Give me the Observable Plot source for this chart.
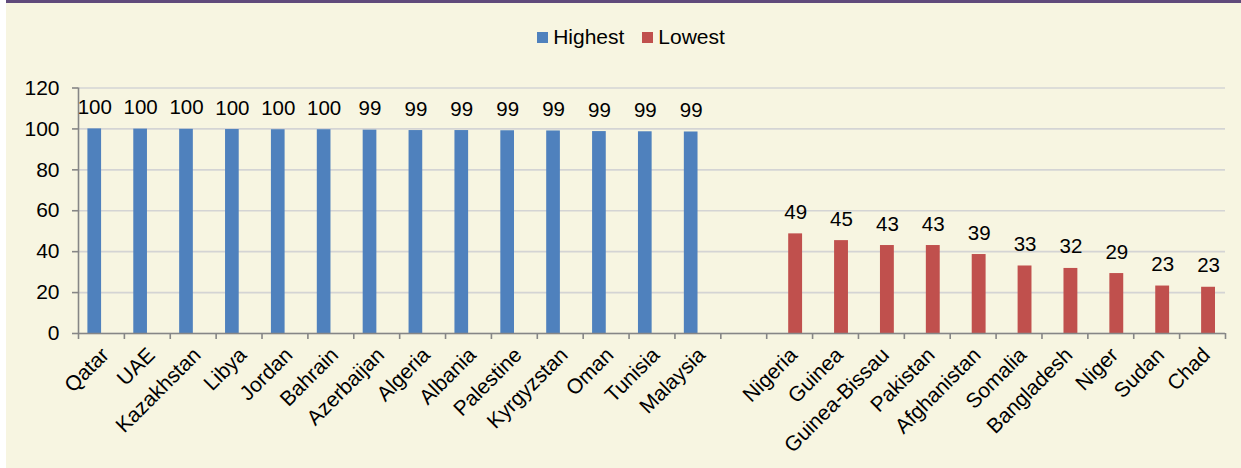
<!DOCTYPE html>
<html>
<head>
<meta charset="utf-8">
<script src="https://cdn.jsdelivr.net/npm/d3@7"></script>
<script src="https://cdn.jsdelivr.net/npm/@observablehq/plot@0.6"></script>
<style>
  html, body { margin: 0; padding: 0; background: #ffffff; }
  #frame {
    position: absolute; left: 6px; top: 0; width: 1235px; height: 468px;
    background: #f7f5e1; border-top: 3px solid #604a7b; box-sizing: border-box;
    font-family: "Liberation Sans", Arial, sans-serif; color: #000;
  }
  #legend {
    height: 57px; box-sizing: border-box; padding-top: 23px; padding-left: 15px;
    display: flex; justify-content: center; align-items: flex-start;
    font-size: 21px; line-height: 22px;
  }
  .item { display: flex; align-items: center; }
  .item + .item { margin-left: 18px; }
  .sw { width: 11px; height: 11px; margin-right: 5px; }
  #chart svg { display: block; }
</style>
</head>
<body>
<div id="frame">
  <div id="legend"></div>
  <div id="chart"></div>
</div>
<script>
// ---- data ----
const seriesNames = ["Highest", "Lowest"];
const seriesColors = ["#4f81bd", "#c0504d"];

const highestCountries = ["Qatar", "UAE", "Kazakhstan", "Libya", "Jordan", "Bahrain", "Azerbaijan",
  "Algeria", "Albania", "Palestine", "Kyrgyzstan", "Oman", "Tunisia", "Malaysia"];
const highestValues = [100, 99.9, 99.8, 99.7, 99.6, 99.6, 99.4, 99.2, 99.2, 99.1, 99.0, 98.7, 98.6, 98.5];

const lowestCountries = ["Nigeria", "Guinea", "Guinea-Bissau", "Pakistan", "Afghanistan", "Somalia",
  "Bangladesh", "Niger", "Sudan", "Chad"];
const lowestValues = [48.7, 45.4, 43.0, 43.0, 38.6, 33.0, 31.8, 29.3, 23.2, 22.6];

const yTicks = [0, 20, 40, 60, 80, 100, 120];

// ---- build rows (one blank category separates the two groups) ----
const highRows = highestCountries.map((c, k) => ({ i: k, country: c, value: highestValues[k] }));
const lowRows = lowestCountries.map((c, k) => ({ i: highestCountries.length + 1 + k, country: c, value: lowestValues[k] }));
const nCats = highestCountries.length + 1 + lowestCountries.length;
const allRows = highRows.concat(lowRows);

// ---- legend ----
const legend = document.getElementById("legend");
seriesNames.forEach((name, k) => {
  const it = document.createElement("div");
  it.className = "item";
  it.innerHTML = `<div class="sw" style="background:${seriesColors[k]}"></div><span>${name}</span>`;
  legend.appendChild(it);
});

// ---- chart ----
const font = "'Liberation Sans', Arial, sans-serif";
const chart = Plot.plot({
  width: 1235,
  height: 408,
  marginLeft: 72,
  marginRight: 16,
  marginTop: 27.5,
  marginBottom: 135,
  style: { background: "transparent", fontFamily: font, fontSize: "20px", color: "#000", overflow: "visible" },
  x: { domain: [0, nCats], axis: null },
  y: { domain: [0, 120], axis: null },
  marks: [
    Plot.gridY(yTicks, { stroke: "#d4d4d4", strokeOpacity: 1, strokeWidth: 1.6 }),
    Plot.rectY(highRows, { x1: "i", x2: d => d.i + 1, y: "value", fill: seriesColors[0], insetLeft: 9.4, insetRight: 22.8 }),
    Plot.rectY(lowRows, { x1: "i", x2: d => d.i + 1, y: "value", fill: seriesColors[1], insetLeft: 22, insetRight: 10 }),
    Plot.ruleX([0], { stroke: "#868686", strokeWidth: 1.6 }),
    Plot.ruleY([0], { stroke: "#868686", strokeWidth: 1.6 }),
    Plot.axisY(yTicks, { label: null, tickSize: 6, tickPadding: 13, stroke: "#868686", strokeWidth: 1.6, fill: "#000", fontSize: 21, strokeOpacity: 1 }),
    Plot.axisX(d3.range(nCats + 1), { label: null, tickSize: 6, tickFormat: () => "", stroke: "#868686", strokeWidth: 1.6, strokeOpacity: 1 }),
    Plot.text(allRows, { x: d => d.i + 0.5, y: 0, text: "country", rotate: -45, textAnchor: "end", lineAnchor: "middle", dx: 4, dy: 18, fontSize: 21, fill: "#000" }),
    Plot.text(highRows, { x: d => d.i + 0.5, y: "value", text: d => String(Math.round(d.value)), lineAnchor: "bottom", dx: -6.7, dy: -15, fontSize: 20.5, fill: "#000" }),
    Plot.text(lowRows, { x: d => d.i + 0.5, y: "value", text: d => String(Math.round(d.value)), lineAnchor: "bottom", dx: 6, dy: -15, fontSize: 20.5, fill: "#000" })
  ]
});
document.getElementById("chart").appendChild(chart);
</script>
</body>
</html>
